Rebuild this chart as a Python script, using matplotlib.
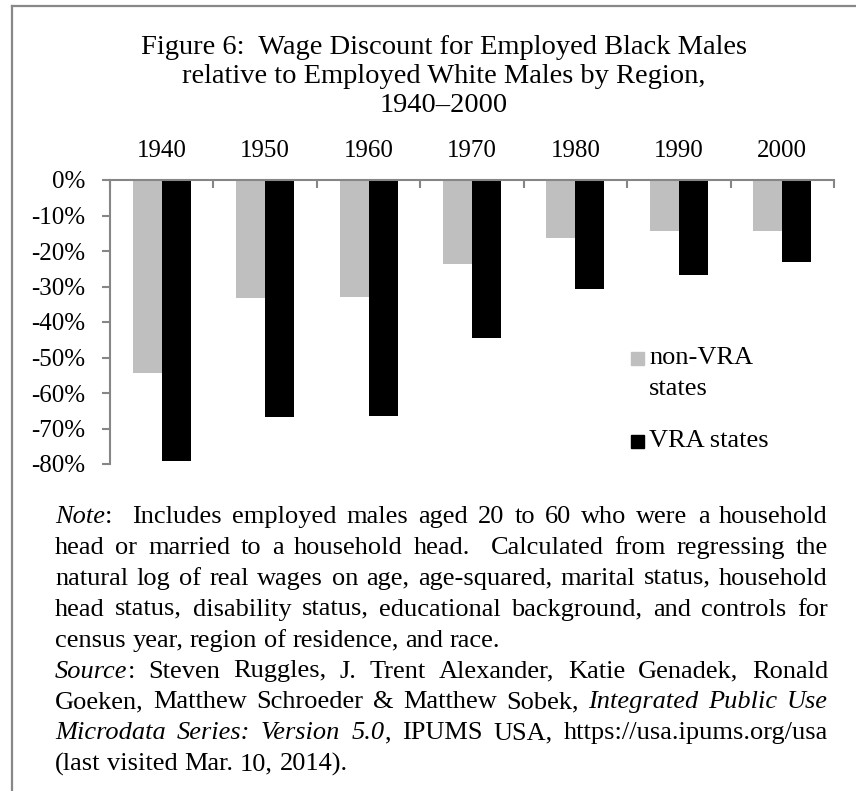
import matplotlib.pyplot as plt
from matplotlib.lines import Line2D
from matplotlib.patches import Rectangle

YEARS = ['1940', '1950', '1960', '1970', '1980', '1990', '2000']
NON_VRA = [-54.5, -33.2, -32.9, -23.8, -16.4, -14.3, -14.4]
VRA = [-79.1, -66.8, -66.4, -44.5, -30.6, -26.9, -23.0]
Y_TICKS = [0, -10, -20, -30, -40, -50, -60, -70, -80]
Y_LABELS = ['0%', '-10%', '-20%', '-30%', '-40%', '-50%', '-60%', '-70%', '-80%']
SERIES = ['non-VRA\nstates', 'VRA states']
COLORS = ['#bfbfbf', '#000000']

TITLE = ['Figure 6:  Wage Discount for Employed Black Males',
         'relative to Employed White Males by Region,',
         '1940\u20132000']

# *...* marks italic, last line of each paragraph is not justified
NOTE = [
    ('*Note*:  Includes employed males aged 20 to 60 who were a household', True),
    ('head or married to a household head.  Calculated from regressing the', True),
    ('natural log of real wages on age, age-squared, marital status, household', True),
    ('head status, disability status, educational background, and controls for', True),
    ('census year, region of residence, and race.', False),
    ('*Source*: Steven Ruggles, J. Trent Alexander, Katie Genadek, Ronald', True),
    ('Goeken, Matthew Schroeder & Matthew Sobek, *Integrated Public Use*', True),
    ('*Microdata Series: Version 5.0*, IPUMS USA, https://usa.ipums.org/usa', True),
    ('(last visited Mar. 10, 2014).', False),
]

FONT = 'Liberation Serif'
GREY = '#868686'
W, H = 856, 791


def fx(px):
    return px / W


def fy(py):
    return 1 - py / H


def parse_line(line):
    words, cur, buf, italic = [], [], '', False
    for ch in line:
        if ch == '*':
            if buf:
                cur.append((buf, italic))
            buf = ''
            italic = not italic
        elif ch == ' ':
            if buf:
                cur.append((buf, italic))
            buf = ''
            words.append(cur)
            cur = []
        else:
            buf += ch
    if buf:
        cur.append((buf, italic))
    words.append(cur)
    return words


def draw_note(fig, lines, x0, x1, y0, step, size):
    renderer = fig.canvas.get_renderer()
    a = fig.text(0, 0, 'aa', fontsize=size, family=FONT)
    b = fig.text(0, 0, 'a a', fontsize=size, family=FONT)
    space = (b.get_window_extent(renderer).width
             - a.get_window_extent(renderer).width)
    a.remove()
    b.remove()
    for n, (line, justify) in enumerate(lines):
        words = parse_line(line)
        placed = []
        total = 0
        for word in words:
            arts = []
            for txt, it in word:
                t = fig.text(0, 0, txt, fontsize=size, family=FONT,
                             style='italic' if it else 'normal',
                             va='baseline', ha='left')
                w = t.get_window_extent(renderer).width
                arts.append((t, w))
                total += w
            placed.append(arts)
        gaps = len(words) - 1
        gap = (x1 - x0 - total) / gaps if justify and gaps else space
        x = x0
        y = y0 + n * step
        for arts in placed:
            for t, w in arts:
                t.set_position((fx(x), fy(y)))
                x += w
            x += gap


fig = plt.figure(figsize=(W / 100, H / 100), dpi=100)

ax = fig.add_axes([fx(110), fy(464), fx(834) - fx(110), fy(180) - fy(464)])
xs = list(range(len(YEARS)))
bw = 0.28
ax.bar([x - bw / 2 for x in xs], NON_VRA, bw, color=COLORS[0], align='center')
ax.bar([x + bw / 2 for x in xs], VRA, bw, color=COLORS[1], align='center')

ax.set_xlim(-0.5, len(YEARS) - 0.5)
ax.set_ylim(-80, 0)
for s in ['right', 'bottom']:
    ax.spines[s].set_visible(False)
for s in ['top', 'left']:
    ax.spines[s].set_color(GREY)
    ax.spines[s].set_linewidth(1.5)

ax.xaxis.tick_top()
ax.set_xticks([x - 0.5 for x in range(len(YEARS) + 1)])
ax.set_xticklabels([])
ax.set_xticks(xs, minor=True)
ax.set_xticklabels(YEARS, minor=True, fontsize=18, family=FONT)
ax.tick_params(axis='x', which='major', direction='in', length=6,
               color=GREY, width=1.5)
ax.tick_params(axis='x', which='minor', length=0, pad=13)

ax.set_yticks(Y_TICKS)
ax.set_yticklabels(Y_LABELS, fontsize=18, family=FONT)
ax.tick_params(axis='y', direction='out', length=6, color=GREY, width=1.5,
               pad=12)

for i, line in enumerate(TITLE):
    fig.text(fx(444), fy(48 + i * 28.5), line, ha='center', va='center',
             fontsize=20.5, family=FONT)

# legend
leg_y = [358, 441]
for lab, col, y in zip(SERIES, COLORS, leg_y):
    fig.add_artist(Rectangle((fx(631), fy(y + 6.5)), fx(13), 13 / H,
                             color=col, transform=fig.transFigure))
    for k, part in enumerate(lab.split('\n')):
        fig.text(fx(649), fy(y + k * 31), part, ha='left', va='center',
                 fontsize=19, family=FONT)

# frame
fig.add_artist(Line2D([fx(12), fx(12)], [fy(6), 0], color='#888888', lw=1.6))
fig.add_artist(Line2D([fx(12), 1], [fy(6), fy(6)], color='#888888', lw=1.6))

fig.canvas.draw()
draw_note(fig, NOTE, 55, 828, 523, 30.9, 19)

fig.savefig('out.png', dpi=100)
